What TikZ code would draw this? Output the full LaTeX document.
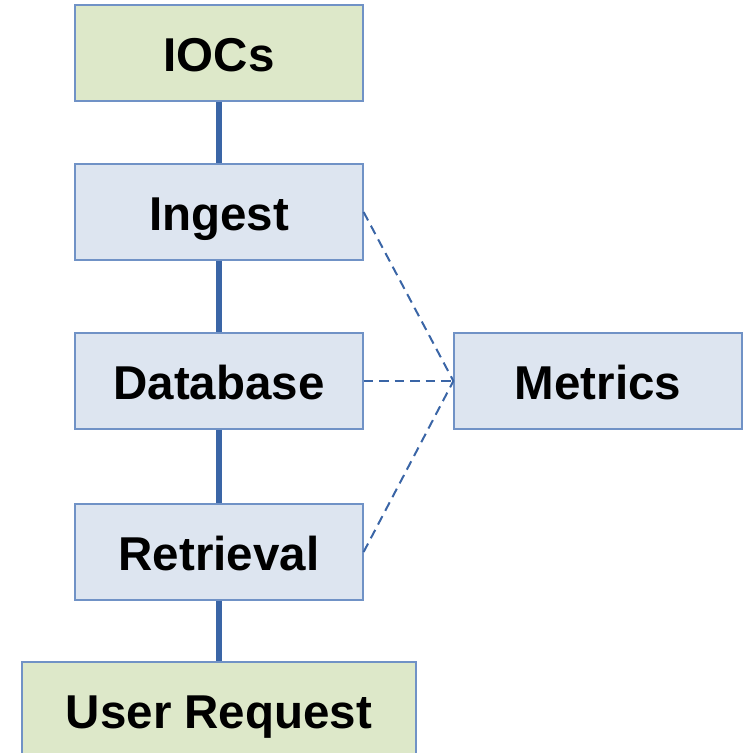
\documentclass[tikz,border=0pt]{standalone}
\usepackage{fontspec}
\setmainfont{Liberation Sans}
\definecolor{greenfill}{RGB}{221,232,201}
\definecolor{bluefill}{RGB}{221,229,240}
\definecolor{boxline}{RGB}{112,146,198}
\definecolor{linkblue}{RGB}{58,101,166}
\tikzset{
  box/.style={draw=boxline, line width=1.2pt, minimum height=96pt, inner sep=0pt,
    text height=36pt, text depth=0pt,
    font=\fontsize{47.5}{50}\selectfont\bfseries, text=black},
  stagebox/.style={box, fill=bluefill, minimum width=288pt},
  endbox/.style={box, fill=greenfill},
  link/.style={draw=linkblue, line width=5.5pt},
  metriclink/.style={draw=linkblue, line width=2pt, dash pattern=on 9.5pt off 6pt}
}
\begin{document}
\begin{tikzpicture}[x=1pt,y=1pt]
\useasboundingbox (0,0) rectangle (750,-753);
\clip (0,0) rectangle (750,-753);
% pipeline stages
\node[endbox, minimum width=288pt] (iocs) at (219,-53) {IOCs};
\node[stagebox] (ingest) at (219,-212) {Ingest};
\node[stagebox] (db) at (219,-381) {Database};
\node[stagebox] (retr) at (219,-552) {Retrieval};
\node[endbox, minimum width=394pt] (user) at (219,-710) {User Request};
\node[stagebox] (metrics) at (598,-381) {Metrics};
% solid connectors
\draw[link] (iocs.south) -- (ingest.north);
\draw[link] (ingest.south) -- (db.north);
\draw[link] (db.south) -- (retr.north);
\draw[link] (retr.south) -- (user.north);
% dashed connectors to metrics
\draw[metriclink] (ingest.east) -- (metrics.west);
\draw[metriclink] (db.east) -- (metrics.west);
\draw[metriclink] (retr.east) -- (metrics.west);
\end{tikzpicture}
\end{document}
